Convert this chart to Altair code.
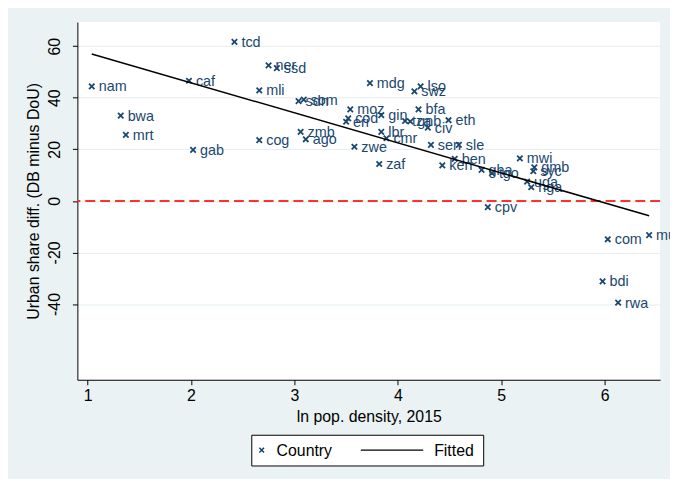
import altair as alt
import pandas as pd

# ---- data ----
codes = ["nam", "bwa", "mrt", "caf", "gab", "tcd", "mli", "cog", "ner", "ssd",
         "sdn", "som", "zmb", "ago", "moz", "cod", "eri", "zwe", "mdg", "gin",
         "lbr", "cmr", "zaf", "lso", "swz", "bfa", "tza", "gnb", "civ", "eth",
         "sen", "sle", "ben", "ken", "gha", "tgo", "mwi", "gmb", "syc", "uga",
         "nga", "cpv", "com", "mus", "bdi", "rwa"]
ln_density = [1.04, 1.32, 1.37, 1.98, 2.02, 2.42, 2.66, 2.66, 2.75, 2.83,
              3.04, 3.09, 3.06, 3.11, 3.54, 3.52, 3.50, 3.58, 3.73, 3.84,
              3.84, 3.89, 3.82, 4.22, 4.16, 4.20, 4.07, 4.12, 4.29, 4.49,
              4.32, 4.59, 4.55, 4.43, 4.81, 4.91, 5.18, 5.32, 5.31, 5.25,
              5.29, 4.87, 6.03, 6.43, 5.98, 6.13]
urban_diff = [44.4, 33.1, 25.6, 46.6, 19.8, 61.7, 42.9, 23.6, 52.6, 51.5,
              38.7, 39.3, 26.8, 23.9, 35.5, 32.0, 30.7, 21.0, 45.7, 33.3,
              26.8, 24.3, 14.3, 44.4, 42.5, 35.5, 31.0, 30.8, 28.4, 31.3,
              21.7, 21.7, 16.3, 13.8, 12.0, 10.8, 16.5, 13.0, 11.5, 7.5,
              5.3, -2.4, -14.9, -13.3, -31.2, -39.5]
fit_x = [1.04, 6.43]
fit_y = [57.0, -5.8]
x_ticks = [1, 2, 3, 4, 5, 6]
y_ticks = [-40, -20, 0, 20, 40, 60]
legend_labels = ["Country", "Fitted"]

df = pd.DataFrame({"code": codes, "x": ln_density, "y": urban_diff})
fit = pd.DataFrame({"x": fit_x, "y": fit_y})

NAVY = "#1a476f"
FONT = "Liberation Sans"
W, H = 588, 361
XPATH = "M-1,-1L1,1M-1,1L1,-1"

xs = alt.Scale(domain=[0.901, 6.536], nice=False, zero=False)
ys = alt.Scale(domain=[-69.4, 69.4], nice=False, zero=False)

xax = alt.Axis(values=x_ticks, title="ln pop. density, 2015", grid=False,
               labelExpr="'' + datum.value",
               domainColor="black", tickColor="black", tickSize=5,
               labelFontSize=16, titleFontSize=16, labelPadding=3,
               titlePadding=5, labelColor="black", titleColor="black",
               labelFont=FONT, titleFont=FONT, titleFontWeight=400)
yax = alt.Axis(values=y_ticks, title="Urban share diff. (DB minus DoU)",
               labelExpr="'' + datum.value",
               grid=True, gridColor="#e4ecee", gridWidth=1,
               domainColor="black", tickColor="black", tickSize=5,
               labelFontSize=16, titleFontSize=16, labelAngle=270,
               labelAlign="center", labelBaseline="bottom", labelPadding=10,
               titlePadding=5, labelColor="black", titleColor="black",
               labelFont=FONT, titleFont=FONT, titleFontWeight=400)

base = alt.Chart(df)

zero_line = alt.Chart(pd.DataFrame({"z": [0]})).mark_rule(
    color="#ff3030", strokeWidth=2, strokeDash=[10, 5]
).encode(y=alt.Y("z:Q", scale=ys, axis=yax))

points = base.mark_point(shape=XPATH, filled=False, color=NAVY, opacity=1,
                         strokeWidth=1.8, size=30).encode(
    x=alt.X("x:Q", scale=xs, axis=xax),
    y=alt.Y("y:Q", scale=ys, axis=yax),
)

labels = base.mark_text(align="left", baseline="middle", dx=7, dy=1,
                        fontSize=14.5, font=FONT, color=NAVY).encode(
    x=alt.X("x:Q", scale=xs),
    y=alt.Y("y:Q", scale=ys),
    text="code:N",
)

fitted = alt.Chart(fit).mark_line(color="black", strokeWidth=1.5).encode(
    x=alt.X("x:Q", scale=xs),
    y=alt.Y("y:Q", scale=ys),
)

# ---- legend box (drawn below the plot) ----
one = pd.DataFrame({"t": [legend_labels[0]]})
two = pd.DataFrame({"t": [legend_labels[1]]})
leg_box = alt.Chart(one).mark_rect(fill="white", stroke="black", strokeWidth=1).encode(
    x=alt.value(176), x2=alt.value(410), y=alt.value(417), y2=alt.value(448))
leg_pt = alt.Chart(one).mark_point(shape=XPATH, filled=False, color=NAVY, opacity=1,
                                   strokeWidth=1.6, size=22).encode(
    x=alt.value(186), y=alt.value(432))
leg_t1 = alt.Chart(one).mark_text(align="left", baseline="middle", fontSize=16,
                                  font=FONT, color="black").encode(
    x=alt.value(201), y=alt.value(433), text="t:N")
leg_line = alt.Chart(one).mark_rule(color="black", strokeWidth=1.5).encode(
    x=alt.value(286), x2=alt.value(349), y=alt.value(432))
leg_t2 = alt.Chart(two).mark_text(align="left", baseline="middle", fontSize=16,
                                  font=FONT, color="black").encode(
    x=alt.value(360), y=alt.value(433), text="t:N")

chart = alt.layer(zero_line, points, labels, fitted,
                  leg_box, leg_pt, leg_t1, leg_line, leg_t2).properties(
    width=W, height=H,
    autosize=alt.AutoSizeParams(type="none"),
    padding={"left": 70, "top": 12, "right": 10, "bottom": 98},
    background="#eaf2f3",
).configure_view(fill="white", strokeWidth=0)

chart.save("out.html", embed_options={"renderer": "svg", "actions": False})
